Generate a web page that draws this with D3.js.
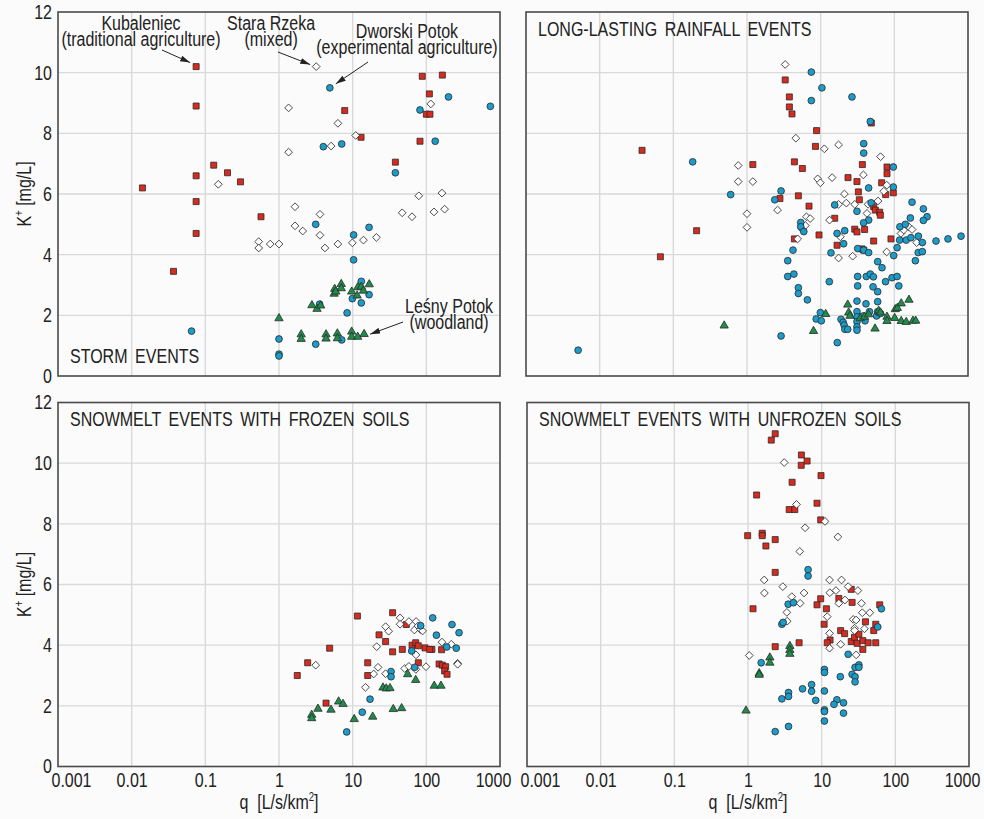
<!DOCTYPE html>
<html>
<head>
<meta charset="utf-8">
<script src="https://cdn.jsdelivr.net/npm/d3@7"></script>
<style>
  body { margin: 0; background: #fbfbfb; }
  svg { display: block; font-family: "Liberation Sans Narrow", "Arial Narrow", "Liberation Sans", Arial, sans-serif; }
  /* no narrow face installed: squeeze the regular one */
  text.nm { transform-box: fill-box; transform-origin: 50% 50%; transform: scaleX(0.8); }
  text.ne { transform-box: fill-box; transform-origin: 100% 50%; transform: scaleX(0.8); }
  text.ns { transform-box: fill-box; transform-origin: 0% 50%; transform: scaleX(0.8); }
</style>
</head>
<body>
<svg id="chart" width="984" height="819"></svg>
<script>
// --- data: [q (L/s/km2), K+ (mg/L)] per catchment and event type ---
const stormKub = [[0.075,10.2],[0.075,8.9],[0.075,6.6],[0.075,5.75],[0.075,4.7],[0.014,6.2],[0.037,3.45],[0.13,6.95],[0.2,6.7],[0.3,6.4],[0.57,5.25],[7.8,8.75],[13,7.87],[38,7.05],[88,9.88],[165,9.92],[110,9.3],[100,8.63],[112,8.63],[82,7.74]];
const stormStara = [[3.2,10.2],[1.35,8.84],[1.35,7.38],[6.3,8.33],[5.1,7.58],[11,7.93],[0.15,6.32],[1.65,5.58],[1.65,4.95],[2.1,4.78],[3.6,5.33],[3.6,4.64],[0.53,4.43],[0.53,4.22],[0.76,4.35],[1.0,4.35],[4.2,4.22],[6.3,4.35],[9.9,4.39],[14,4.48],[21,4.57],[47,5.38],[64,5.25],[79,5.94],[163,6.03],[127,5.41],[177,5.5],[115,8.97]];
const stormDworski = [[4.9,9.5],[4.0,7.56],[7.1,7.65],[38,6.7],[82,8.77],[200,9.2],[740,8.89],[132,7.74],[0.065,1.48],[3.15,5.0],[10.3,4.65],[16.7,4.9],[10.3,3.83],[13.1,3.12],[9.9,2.55],[13.1,2.41],[16.7,2.68],[8.4,2.08],[3.56,2.37],[1.0,1.22],[1.0,0.72],[1.0,0.66],[3.15,1.05],[7.1,1.19]];
const stormLesny = [[1.0,1.9],[2.0,1.37],[2.0,1.22],[4.35,1.37],[4.35,1.23],[6.2,1.4],[6.2,1.24],[9.7,1.46],[9.7,1.29],[11.7,1.29],[14.3,1.38],[2.8,2.33],[3.28,2.21],[3.68,2.32],[5.7,2.87],[5.6,2.71],[5.9,2.78],[7.0,3.03],[7.0,2.89],[9.7,2.78],[11.7,2.92],[13.1,2.94],[14.0,2.81],[16.8,3.02],[11.5,2.65]];

const rainKub = [[3.3,9.76],[3.76,9.2],[3.76,8.87],[4.08,8.64],[48.7,8.34],[8.8,8.09],[8.5,7.57],[0.0376,7.44],[1.2,6.97],[4.4,7.06],[5.64,6.84],[36.8,6.97],[79.5,6.89],[79.5,6.67],[23.5,6.54],[31.1,6.41],[67.3,6.37],[32.5,6.07],[96.9,6.04],[76.3,5.98],[4.98,5.94],[2.8,5.85],[33.5,5.81],[6.95,5.6],[52.4,5.58],[55.2,5.47],[63.2,5.4],[64.6,5.3],[15.5,5.2],[29,4.84],[31.1,4.75],[39.5,4.83],[0.207,4.79],[9.5,4.65],[4.4,4.52],[52.4,4.45],[90,4.52],[16.7,4.31],[36.4,4.19],[38.4,4.15],[0.0667,3.93]];
const rainStara = [[3.3,10.27],[4.6,7.84],[11.2,7.49],[17.5,7.62],[65,7.23],[0.76,6.94],[0.76,6.41],[1.2,6.41],[1.0,5.35],[1.0,4.9],[2.6,5.47],[9.1,6.5],[9.9,6.37],[14.3,6.54],[38,6.63],[79,6.29],[72,6.09],[21,6.0],[17.5,5.66],[22.3,5.7],[29,5.66],[44,5.66],[60,5.77],[42.5,5.36],[6.4,5.25],[7.2,5.19],[6.2,4.96],[5.75,4.81],[4.87,4.52],[13.2,5.14],[18.5,4.59],[17.5,3.89],[27.2,3.95],[78.7,4.09],[123,4.7],[134,4.81],[157,4.92],[174,4.83],[201,4.4]];
const rainDworski = [[0.0051,0.85],[0.183,7.06],[0.6,5.98],[2.9,6.1],[2.38,5.81],[7.47,10.02],[10.4,9.5],[7.47,9.08],[26.6,9.2],[47.2,8.39],[38.4,7.66],[38.4,7.35],[96.9,6.89],[96.9,6.23],[44.8,6.2],[15.5,5.64],[31.1,5.43],[44.8,5.14],[38.2,5.05],[48.4,5.71],[174,5.73],[248,5.51],[278,5.25],[248,5.13],[165,5.21],[119,4.92],[141,5.0],[212,4.61],[240,4.4],[368,4.45],[535,4.52],[804,4.61],[118,4.48],[145,4.48],[168,4.56],[109,4.23],[98,3.97],[211,4.07],[240,4.1],[193,3.8],[5.36,5.06],[5.36,4.92],[5.9,4.76],[21.2,4.79],[16.7,4.7],[20.5,4.36],[4.21,4.15],[3.57,3.8],[13.8,4.06],[31.8,4.2],[38.4,4.15],[44.8,4.07],[59.4,3.77],[68,3.57],[31.8,3.28],[41.7,3.28],[47.2,3.36],[52,3.27],[31.8,2.97],[51.4,2.94],[59.4,2.78],[76,3.11],[93,3.24],[109,3.28],[115,2.97],[59.4,2.45],[31.1,2.47],[41.2,2.38],[13.1,3.11],[3.57,3.28],[4.33,3.36],[4.98,2.91],[4.98,2.72],[6.6,2.51],[2.9,1.32],[16.8,1.1],[8.7,1.88],[9.9,2.09],[10.2,1.82],[18.9,1.87],[20.2,1.77],[20.8,1.68],[21.3,1.54],[23.3,1.54],[31.1,2.12],[31.1,1.95],[31.1,1.79],[31.1,1.62],[31.1,1.51],[38,1.98],[40,1.82],[46,2.12],[57.4,1.98],[59.4,2.12],[65,2.06]];
const rainLesny = [[0.49,1.66],[8.0,1.48],[11.7,2.04],[23.3,2.35],[24,2.09],[25,1.98],[34.5,1.9],[39.5,1.95],[44.8,2.03],[54.7,1.56],[61.3,2.15],[65,2.09],[79.5,1.95],[79.5,1.81],[101,1.91],[103,2.2],[110,2.24],[124,2.39],[158,2.51],[124,1.81],[145,1.78],[179,1.82],[195,1.82]];

const frozenKub = [[1.77,3.0],[2.45,3.42],[4.87,3.9],[4.35,2.09],[11.6,4.96],[16,3.42],[16,3.0],[22.8,4.34],[28,4.12],[34.9,5.07],[34.9,3.78],[47.2,3.86],[53.5,4.68],[64,4.0],[71.7,4.08],[77.8,3.98],[96,3.91],[119,3.86],[161,3.85],[77.8,3.42],[149,3.38],[165,3.34],[183,3.29],[177,3.15],[191,3.04],[111,3.86]];
const frozenStara = [[3.15,3.34],[14.9,2.61],[19.3,3.05],[22.1,3.27],[28,3.06],[21.2,3.95],[28,4.61],[30.8,4.46],[44,4.9],[44,4.69],[58,4.78],[68.8,4.5],[72.7,4.78],[77,4.63],[83,4.52],[89,4.47],[50.8,3.23],[58,3.3],[72,3.2],[72.4,3.68],[99,3.29],[163,4.1],[218,4.03],[266,3.4],[266,3.37]];
const frozenDworski = [[8.3,1.14],[13.5,1.79],[17.2,2.22],[33.2,3.13],[33.2,2.96],[63.3,3.81],[69.5,3.27],[83.8,4.64],[122,4.9],[137,4.33],[189,3.94],[223,4.68],[255,3.9],[278,4.41]];
const frozenLesny = [[2.78,1.7],[2.78,1.59],[3.38,1.9],[5.08,1.87],[6.45,2.14],[7.4,2.06],[10.5,1.56],[18.7,1.64],[25.8,2.6],[28.6,2.57],[32.1,2.58],[35.6,1.89],[46.2,1.92],[55.8,3.04],[71.7,2.85],[128,2.66],[158,2.66]];

const unfrozenKub = [[2.34,10.97],[2.07,10.76],[5.31,10.27],[5.28,9.93],[6.34,10.07],[9.8,9.59],[3.97,9.37],[1.31,8.95],[8.65,8.68],[3.62,8.47],[4.32,8.47],[9.7,8.13],[0.99,7.61],[1.56,7.69],[1.56,7.61],[2.34,7.48],[1.75,7.27],[2.34,6.4],[1.17,5.2],[2.34,3.95],[4.94,4.08],[9.7,5.53],[8.65,5.33],[11.6,5.2],[10.8,4.69],[13,4.17],[11.9,4.08],[18.1,4.48],[20.5,4.38],[17.1,5.54],[25.2,5.84],[25.9,5.41],[25.2,4.12],[27.9,4.26],[32,4.36],[30.3,4.06],[36.2,4.15],[42.7,4.08],[36.2,3.86],[39.3,4.77],[54.2,4.69],[50.9,4.48],[54.2,4.08],[61.4,5.33]];
const unfrozenStara = [[3.1,10.02],[4.55,8.64],[11.1,8.08],[5.96,7.87],[16.6,7.57],[5.04,7.09],[1.66,6.15],[1.67,5.72],[2.97,5.93],[3.93,5.6],[5.77,5.72],[5.1,5.38],[3.37,5.08],[3.4,4.79],[1.04,3.66],[12.8,6.15],[18.6,6.15],[22.9,5.93],[31,5.8],[15.6,5.8],[12.9,5.73],[17.1,5.38],[20.7,5.49],[34.7,5.38],[45,5.07],[35.6,5.07],[11.9,4.94],[26.8,4.85],[29.4,4.83],[28,4.56],[28,4.48],[38.1,4.54],[12.8,4.39],[18.1,4.03],[12.8,3.9],[29.4,3.68]];
const unfrozenDworski = [[64.7,5.2],[57.7,4.6],[6.54,6.49],[6.54,6.28],[3.51,5.35],[4.14,5.4],[2.88,4.69],[3.0,4.75],[1.51,3.42],[22.9,3.7],[10.9,3.2],[10.9,3.1],[17.9,2.96],[25.9,3.04],[28.4,2.96],[28.4,2.79],[28.4,3.27],[32,3.35],[32,3.27],[7.3,2.7],[7.3,2.48],[5.5,2.56],[3.55,2.44],[3.55,2.31],[2.88,2.23],[8.3,2.18],[10.9,2.49],[10.9,1.87],[10.9,1.81],[10.9,1.5],[16.1,2.2],[14.7,2.05],[19.8,2.1],[19.8,1.76],[2.34,1.15],[3.55,1.32]];
const unfrozenLesny = [[0.94,1.84],[1.42,3.07],[1.42,3.02],[1.98,3.59],[1.98,3.42],[3.7,3.97],[3.7,3.84],[3.7,3.71]];

const xTicks = [0.001, 0.01, 0.1, 1, 10, 100, 1000];
const yTicks = [0, 2, 4, 6, 8, 10, 12];
const panelTitles = ["STORM EVENTS", "LONG-LASTING RAINFALL EVENTS", "SNOWMELT EVENTS WITH FROZEN SOILS", "SNOWMELT EVENTS WITH UNFROZEN SOILS"];

// --- layout ---
const svg = d3.select("#chart");
const W = 442, H = 364;

// marker styles per catchment
const sites = {
  kub:     { symbol: d3.symbolSquare,   size: 36, fill: "#d82a1e", rotate: 0 },
  stara:   { symbol: d3.symbolSquare,   size: 30, fill: "#ffffff", rotate: 45 },
  dworski: { symbol: d3.symbolCircle,   size: 36, fill: "#1c9ccb", rotate: 0 },
  lesny:   { symbol: d3.symbolTriangle, size: 30, fill: "#1f8c4c", rotate: 0 }
};

const panels = [
  { title: panelTitles[0], left: 58,  top: 12,    yLabels: true,  xLabels: false, titleBottom: true,
    sets: { kub: stormKub, stara: stormStara, dworski: stormDworski, lesny: stormLesny } },
  { title: panelTitles[1], left: 526, top: 12,    yLabels: false, xLabels: false, titleBottom: false,
    sets: { kub: rainKub, stara: rainStara, dworski: rainDworski, lesny: rainLesny } },
  { title: panelTitles[2], left: 58,  top: 402.5, yLabels: true,  xLabels: true,  titleBottom: false,
    sets: { kub: frozenKub, stara: frozenStara, dworski: frozenDworski, lesny: frozenLesny } },
  { title: panelTitles[3], left: 527, top: 402.5, yLabels: false, xLabels: true,  titleBottom: false,
    sets: { kub: unfrozenKub, stara: unfrozenStara, dworski: unfrozenDworski, lesny: unfrozenLesny } }
];

// arrow head
svg.append("defs").append("marker")
  .attr("id", "arrow")
  .attr("viewBox", "0 0 10 6")
  .attr("refX", 10).attr("refY", 3)
  .attr("markerWidth", 10).attr("markerHeight", 6)
  .attr("markerUnits", "userSpaceOnUse")
  .attr("orient", "auto")
  .append("path")
  .attr("d", "M0,0 L10,3 L0,6 Z")
  .attr("fill", "#222");

const scalesByPanel = [];

panels.forEach(p => {
  const x = d3.scaleLog().domain([0.001, 1000]).range([0, W]);
  const y = d3.scaleLinear().domain([0, 12]).range([H, 0]);
  scalesByPanel.push({ x, y, p });

  const g = svg.append("g").attr("transform", `translate(${p.left},${p.top})`);

  // gridlines
  g.append("g").selectAll("line")
    .data(xTicks.slice(1, -1)).enter().append("line")
    .attr("x1", d => x(d)).attr("x2", d => x(d))
    .attr("y1", 0).attr("y2", H)
    .attr("stroke", "#d9d9d9").attr("stroke-width", 1.4);
  g.append("g").selectAll("line")
    .data(yTicks.slice(1, -1)).enter().append("line")
    .attr("x1", 0).attr("x2", W)
    .attr("y1", d => y(d)).attr("y2", d => y(d))
    .attr("stroke", "#d9d9d9").attr("stroke-width", 1.4);

  // axes (labels only)
  if (p.yLabels) {
    const ya = g.append("g").call(d3.axisLeft(y).tickValues(yTicks).tickSize(0).tickPadding(6));
    ya.select(".domain").remove();
    ya.selectAll("text").attr("class", "ne")
      .attr("font-size", 20).attr("fill", "#222").attr("font-family", null);
  }
  if (p.xLabels) {
    const xa = g.append("g").attr("transform", `translate(0,${H})`)
      .call(d3.axisBottom(x).tickValues(xTicks).tickFormat(d => String(d)).tickSize(0).tickPadding(6));
    xa.select(".domain").remove();
    xa.selectAll("text").attr("class", "nm")
      .attr("font-size", 20).attr("fill", "#222").attr("font-family", null)
      .attr("dx", (d, i) => i === 0 ? 13 : (i === xTicks.length - 1 ? -7 : 0));
  }

  // markers, drawn catchment by catchment
  ["kub", "stara", "dworski", "lesny"].forEach(key => {
    const s = sites[key];
    const sym = d3.symbol().type(s.symbol).size(s.size);
    g.append("g").selectAll("path")
      .data(p.sets[key]).enter().append("path")
      .attr("d", sym)
      .attr("transform", d => `translate(${x(d[0])},${y(d[1])}) rotate(${s.rotate})`)
      .attr("fill", s.fill)
      .attr("stroke", "#2a2a2a")
      .attr("stroke-width", 0.8);
  });

  // frame
  g.append("rect")
    .attr("width", W).attr("height", H)
    .attr("fill", "none")
    .attr("stroke", "#4a4a4a").attr("stroke-width", 1.6);

  // panel title
  g.append("text")
    .attr("class", "ns")
    .attr("x", 12)
    .attr("y", p.titleBottom ? H - 13 : 24)
    .attr("font-size", 20)
    .attr("word-spacing", 4)
    .attr("fill", "#222")
    .text(p.title);
});

// y-axis titles
[panels[0], panels[2]].forEach(p => {
  const t = svg.append("text")
    .attr("transform", `translate(31,${p.top + H / 2}) rotate(-90) scale(0.8,1)`)
    .attr("text-anchor", "middle")
    .attr("font-size", 20)
    .attr("fill", "#222");
  t.append("tspan").text("K");
  t.append("tspan").attr("font-size", 12).attr("dy", -8).text("+");
  t.append("tspan").attr("dy", 8).text(" [mg/L]");
});

// x-axis titles
[panels[2], panels[3]].forEach(p => {
  const t = svg.append("text")
    .attr("class", "nm")
    .attr("x", p.left + W / 2)
    .attr("y", 809)
    .attr("text-anchor", "middle")
    .attr("font-size", 20)
    .attr("xml:space", "preserve")
    .attr("fill", "#222");
  t.append("tspan").text("q  [L/s/km");
  t.append("tspan").attr("font-size", 12).attr("dy", -8).text("2");
  t.append("tspan").attr("dy", 8).text("]");
});

// annotations in the storm panel, arrows end next to a data point
const sp = scalesByPanel[0];
const ann = [
  { lines: ["Kubaleniec", "(traditional agriculture)"], tx: 141, ty: 30, from: [162, 50], pt: stormKub[0], off: [-6, -4] },
  { lines: ["Stara Rzeka", "(mixed)"], tx: 271, ty: 30, from: [278, 52], pt: stormStara[0], off: [-6, -2] },
  { lines: ["Dworski Potok", "(experimental agriculture)"], tx: 407, ty: 38, from: [368, 62], pt: stormDworski[0], off: [6, -4] },
  { lines: ["Leśny Potok", "(woodland)"], tx: 449, ty: 313, from: [403, 322], pt: stormLesny[10], off: [6, 0] }
];
ann.forEach(a => {
  const t = svg.append("text")
    .attr("class", "nm")
    .attr("text-anchor", "middle")
    .attr("font-size", 20)
    .attr("fill", "#222");
  a.lines.forEach((l, i) => {
    t.append("tspan").attr("x", a.tx).attr("y", a.ty + i * 16).text(l);
  });
  const ex = panels[0].left + sp.x(a.pt[0]) + a.off[0];
  const ey = panels[0].top + sp.y(a.pt[1]) + a.off[1];
  svg.append("line")
    .attr("x1", a.from[0]).attr("y1", a.from[1])
    .attr("x2", ex).attr("y2", ey)
    .attr("stroke", "#222").attr("stroke-width", 1)
    .attr("marker-end", "url(#arrow)");
});
</script>
</body>
</html>
